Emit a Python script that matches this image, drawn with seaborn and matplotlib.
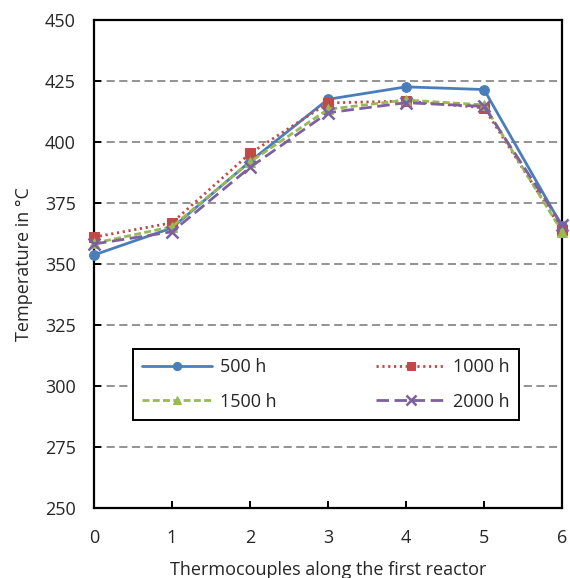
import numpy as np
import pandas as pd
import matplotlib
matplotlib.use("Agg")
import matplotlib.pyplot as plt
import seaborn as sns

thermocouples = [0, 1, 2, 3, 4, 5, 6]
t500 = [353.7, 364.8, 392.0, 417.5, 422.6, 421.5, 365.5]
t1000 = [361.0, 366.9, 395.3, 416.0, 416.8, 414.0, 364.0]
t1500 = [358.5, 365.3, 391.8, 413.4, 417.2, 415.2, 363.3]
t2000 = [358.2, 363.2, 389.6, 412.0, 416.1, 414.6, 366.0]
labels = ["500 h", "1000 h", "1500 h", "2000 h"]

sns.set_theme(style="white")
plt.rcParams["font.family"] = ["Open Sans", "DejaVu Sans"]

fig = plt.figure(figsize=(5.7, 5.78), dpi=100)
ax = fig.add_axes([94 / 570, 1 - 508 / 578, 468 / 570, 488 / 578])

colors = ["#4A7EBB", "#BE4B48", "#98B954", "#7D60A0"]
styles = [
    dict(linestyle="-", marker="o", markersize=7),
    dict(linestyle=(0, (0.8, 1.3)), marker="s", markersize=7),
    dict(linestyle=(0, (2.5, 1.2)), marker="^", markersize=7.5),
    dict(linestyle=(0, (4.5, 2)), marker="x", markersize=8, mew=1.8),
]
for vals, lab, col, st in zip([t500, t1000, t1500, t2000], labels, colors, styles):
    df = pd.DataFrame({"x": thermocouples, "y": vals})
    sns.lineplot(data=df, x="x", y="y", ax=ax, label=lab, color=col, lw=2,
                 markeredgecolor=col, markerfacecolor=col, clip_on=False, zorder=3, **st)

ax.set_xlim(0, 6)
ax.set_ylim(250, 450)
ax.set_yticks(np.arange(250, 451, 25))
ax.set_xticks(thermocouples)
ax.yaxis.grid(True, linestyle=(0, (4.5, 2.5)), color="#8a8a8a", lw=1.3)
ax.xaxis.grid(False)
for s in ["left", "bottom", "top", "right"]:
    ax.spines[s].set_color("black")
    ax.spines[s].set_linewidth(1.6)
ax.tick_params(axis="both", direction="in", length=5, width=1.4, color="black",
               labelsize=13, bottom=True, left=True, top=False, right=False)
ax.tick_params(axis="x", pad=15)
ax.tick_params(axis="y", pad=13)
ax.set_xlabel("Thermocouples along the first reactor", fontsize=13, labelpad=10)
ax.set_ylabel("Temperature in °C", fontsize=13, labelpad=9)

h, l = ax.get_legend_handles_labels()
order = [0, 2, 1, 3]
leg = ax.legend([h[i] for i in order], [l[i] for i in order], loc="center",
                bbox_to_anchor=(30 / 468, 0.253, 404 / 468, 0), mode="expand",
                ncol=2, fontsize=13, frameon=True, fancybox=False, edgecolor="black",
                handlelength=3.9, handletextpad=0.4, borderpad=0.5,
                labelspacing=0.9, columnspacing=4.0, markerscale=0.85)
leg.get_frame().set_linewidth(1.4)
leg.get_frame().set_alpha(1)

fig.savefig("out.png", dpi=100)
